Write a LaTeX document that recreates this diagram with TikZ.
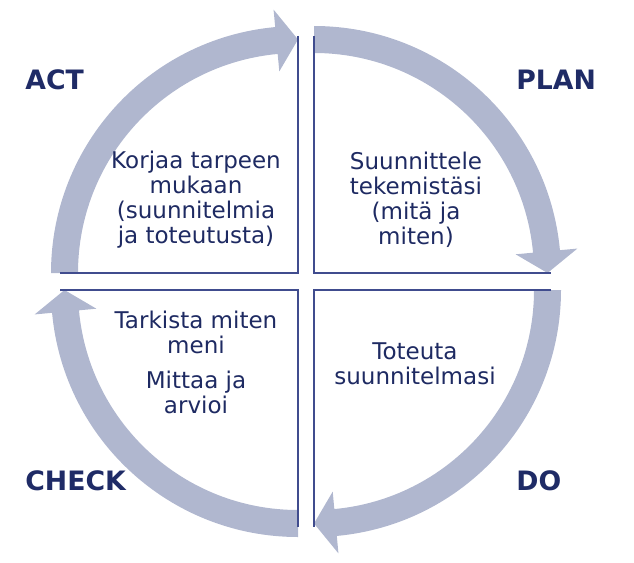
\documentclass[tikz,border=0pt]{standalone}
\usepackage{fontspec}
\setmainfont{DejaVu Sans}
\usepackage{xcolor}
\definecolor{pdcanavy}{HTML}{1F2B66}
\definecolor{pdcatext}{HTML}{1E2A62}
\definecolor{pdcaline}{HTML}{404C8E}
\definecolor{pdcafill}{HTML}{B0B7CF}
% curved arrow: centre, start angle, end of shaft, tip angle
\newcommand{\cyclearrow}[4]{%
  \fill[pdcafill, shift={(#1)}] (#2:220) arc[start angle=#2, end angle=#3, radius=220]
    -- (#3:202.5) -- (#4:233.5) -- (#3:264.5) -- (#3:247)
    arc[start angle=#3, end angle=#2, radius=247] -- cycle;}

\begin{document}
\begin{tikzpicture}[
    x=0.02cm,
    y=0.02cm,
    quadline/.style={draw=pdcaline, line width=1.1pt},
    phase/.style={font=\fontsize{15.2}{17}\selectfont\bfseries, text=pdcanavy, anchor=west, inner sep=0pt},
    body/.style={font=\fontsize{13.1}{14.2}\selectfont, text=pdcatext, align=center, inner sep=0pt}
]
\useasboundingbox (0,0) rectangle (634,562);
% Quadrant corners
\coordinate (tl) at (298,289);
\coordinate (tr) at (314,289);
\coordinate (bl) at (298,272);
\coordinate (br) at (314,272);
% Arrows
\cyclearrow{tr}{90}{5.3}{0}
\cyclearrow{br}{0}{-84.7}{-90}
\cyclearrow{bl}{-90}{-174.7}{-180}
\cyclearrow{tl}{180}{95.3}{90}
% Quadrant edges
\draw[quadline] (298,526) -- (tl) -- (60,289);
\draw[quadline] (314,526) -- (tr) -- (551,289);
\draw[quadline] (60,272) -- (bl) -- (298,35);
\draw[quadline] (551,272) -- (br) -- (314,35);
% Phase labels
\node[phase] (act) at (25,482) {ACT};
\node[phase] (plan) at (516,482) {PLAN};
\node[phase] (check) at (25,81) {CHECK};
\node[phase] (do) at (516,81) {DO};
% Texts
\node[body] (actText) at (196,362) {Korjaa tarpeen\\mukaan\\(suunnitelmia\\ja toteutusta)};
\node[body] (planText) at (416,362) {Suunnittele\\tekemistäsi\\(mitä ja\\miten)};
\node[body] (checkText) at (196,200) {Tarkista miten\\meni\\[5.7pt]Mittaa ja\\arvioi};
\node[body] (doText) at (415,198.5) {Toteuta\\suunnitelmasi};
\end{tikzpicture}
\end{document}
